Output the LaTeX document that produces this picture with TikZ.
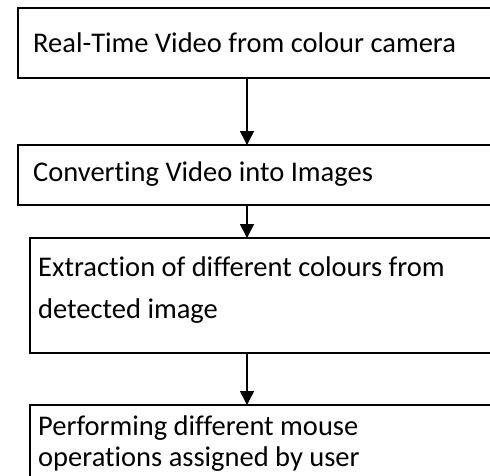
\documentclass[tikz,border=0pt]{standalone}
\usepackage{fontspec}
\setmainfont[Ligatures=NoCommon]{Carlito}
\usetikzlibrary{arrows.meta}
\begin{document}
\begin{tikzpicture}[x=1pt,y=-1pt,
  box/.style={draw=black,line width=1.6pt,rectangle,anchor=north west,inner sep=0pt,outer sep=0pt},
  lbl/.style={anchor=base west,inner sep=0pt,font=\fontsize{28.5}{34}\selectfont},
  flow/.style={line width=1.6pt,-{Triangle[width=14pt,length=14pt]}}]
  \useasboundingbox (0,0) rectangle (490,475);
  \clip (0,0) rectangle (490,475);
  % process boxes (they run on past the right and bottom edges)
  \node[box,minimum width=500pt,minimum height=70pt]  (b1) at (18,8) {};
  \node[box,minimum width=500pt,minimum height=60pt]  (b2) at (18,145) {};
  \node[box,minimum width=500pt,minimum height=115pt] (b3) at (30,238) {};
  \node[box,minimum width=500pt,minimum height=120pt] (b4) at (30,405) {};
  % box texts
  \node[lbl] (t1) at (33,52) {Real-Time Video from colour camera};
  \node[lbl] (t2) at (33,181) {Converting Video into Images};
  \node[lbl] (t3a) at (38,276) {Extraction of different colours from};
  \node[lbl] (t3b) at (38,318) {detected image};
  \node[lbl] (t4a) at (38,435) {Performing different mouse};
  \node[lbl] (t4b) at (38,466) {operations assigned by user};
  % connectors
  \coordinate (ax) at (247,0);
  \draw[flow] (b1.south -| ax) -- (b2.north -| ax);
  \draw[flow] (b2.south -| ax) -- (b3.north -| ax);
  \draw[flow] (b3.south -| ax) -- (b4.north -| ax);
\end{tikzpicture}
\end{document}
